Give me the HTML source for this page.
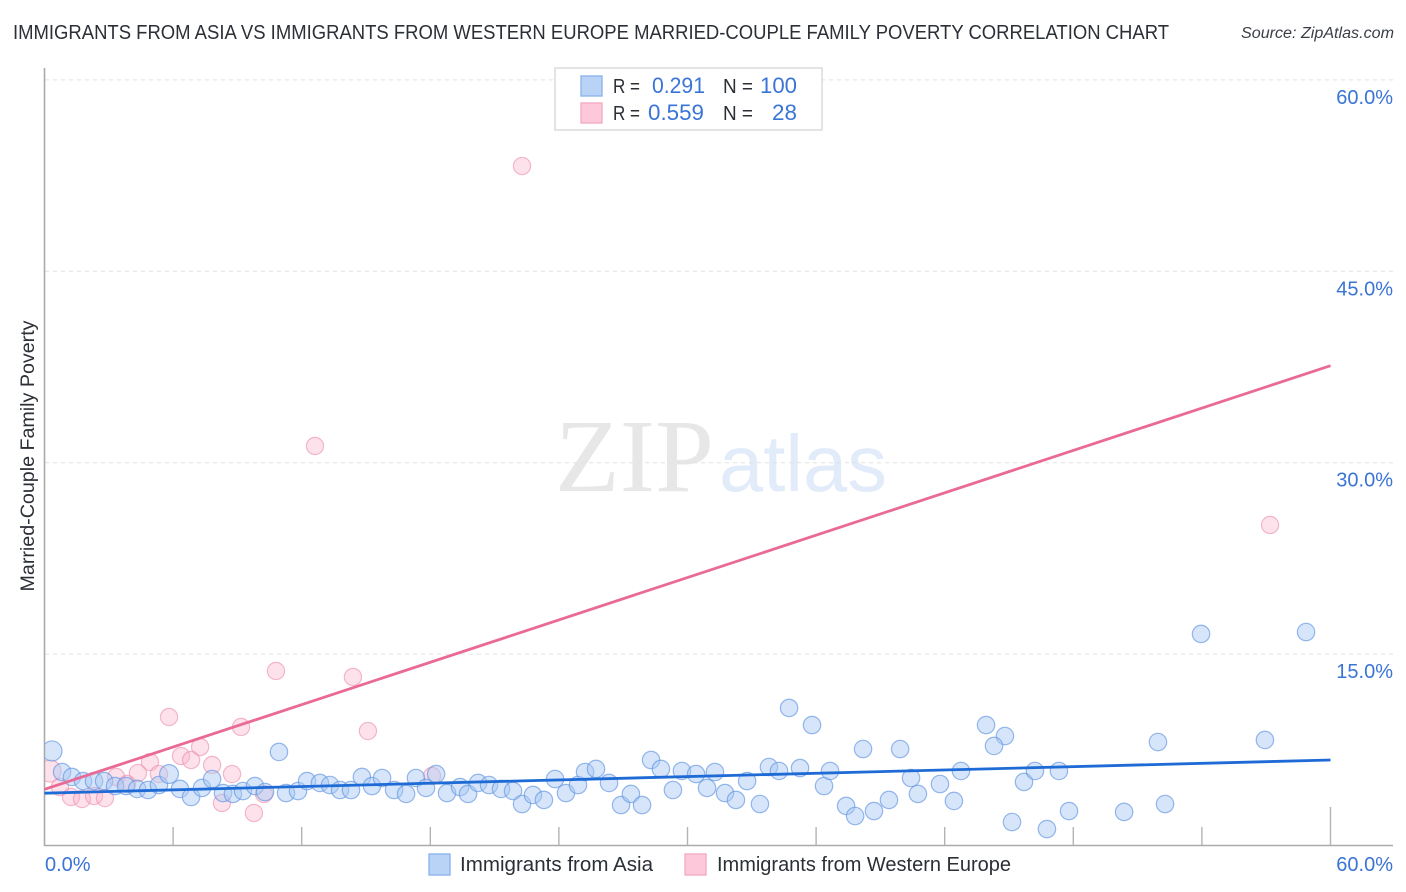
<!DOCTYPE html>
<html lang="en">
<head>
<meta charset="utf-8">
<title>Immigrants from Asia vs Immigrants from Western Europe Married-Couple Family Poverty Correlation Chart</title>
<style>
html,body{margin:0;padding:0;background:#fff;width:1406px;height:892px;overflow:hidden}
svg{display:block;font-family:"Liberation Sans",sans-serif}
</style>
</head>
<body>
<svg id="chart" width="1406" height="892" viewBox="0 0 1406 892" xmlns="http://www.w3.org/2000/svg">
  <defs><clipPath id="plot-clip"><rect x="45" y="60" width="1350" height="785"/></clipPath></defs>
  <text x="13" y="39" font-size="20" fill="#2b2f36" textLength="1156" lengthAdjust="spacingAndGlyphs">IMMIGRANTS FROM ASIA VS IMMIGRANTS FROM WESTERN EUROPE MARRIED-COUPLE FAMILY POVERTY CORRELATION CHART</text>
  <text x="1241" y="38" font-size="15.5" font-style="italic" fill="#3a3f47" textLength="153" lengthAdjust="spacingAndGlyphs">Source: ZipAtlas.com</text>

  <g>
    <text x="555" y="491" font-family="'Liberation Serif',serif" font-size="104" fill="#e7e7e7" textLength="159" lengthAdjust="spacingAndGlyphs">ZIP</text>
    <text x="719" y="491" font-size="80" fill="#e2ebf9" textLength="168" lengthAdjust="spacingAndGlyphs">atlas</text>
  </g>

  <g id="grid"></g>
  <g id="axes">
    <line x1="44.5" y1="68" x2="44.5" y2="846" stroke="#aaaaaa" stroke-width="1.6"/>
    <line x1="44" y1="845.5" x2="1393" y2="845.5" stroke="#aaaaaa" stroke-width="1.6"/>
  </g>
  <g id="x-ticks"></g>
  <g id="y-labels"></g>
  <g id="x-labels"></g>

  <text transform="translate(34,456) rotate(-90)" font-size="19" fill="#2b2f36" text-anchor="middle" textLength="271" lengthAdjust="spacingAndGlyphs">Married-Couple Family Poverty</text>

  <g id="points-pink" clip-path="url(#plot-clip)"></g>
  <g id="points-blue" clip-path="url(#plot-clip)"></g>
  <g id="trends"></g>

  <g>
    <rect x="555" y="68" width="267" height="62" fill="#ffffff" fill-opacity="0.92" stroke="#dddddd" stroke-width="1.6"/>
    <rect x="581" y="76" width="21" height="20" fill="#b9d3f6" stroke="#8fb6ec" stroke-width="1.4"/>
    <rect x="581" y="103" width="21" height="20" fill="#fcc8da" stroke="#f3adc6" stroke-width="1.4"/>
    <g font-size="22">
      <text x="613" y="93" fill="#2b2f36" font-size="20" textLength="27" lengthAdjust="spacingAndGlyphs">R =</text>
      <text x="652" y="93" fill="#3a74d6" textLength="53" lengthAdjust="spacingAndGlyphs">0.291</text>
      <text x="723" y="93" fill="#2b2f36" font-size="20" textLength="30" lengthAdjust="spacingAndGlyphs">N =</text>
      <text x="760" y="93" fill="#3a74d6" textLength="37" lengthAdjust="spacingAndGlyphs">100</text>
      <text x="613" y="120" fill="#2b2f36" font-size="20" textLength="27" lengthAdjust="spacingAndGlyphs">R =</text>
      <text x="648" y="120" fill="#3a74d6" textLength="56" lengthAdjust="spacingAndGlyphs">0.559</text>
      <text x="723" y="120" fill="#2b2f36" font-size="20" textLength="30" lengthAdjust="spacingAndGlyphs">N =</text>
      <text x="772" y="120" fill="#3a74d6" textLength="25" lengthAdjust="spacingAndGlyphs">28</text>
    </g>
  </g>

  <g>
    <rect x="429" y="854" width="21" height="21" fill="#b9d3f6" stroke="#8fb6ec" stroke-width="1.4"/>
    <text x="460" y="871" font-size="20" fill="#2b2f36" textLength="193" lengthAdjust="spacingAndGlyphs">Immigrants from Asia</text>
    <rect x="685" y="854" width="21" height="21" fill="#fcc8da" stroke="#f3adc6" stroke-width="1.4"/>
    <text x="717" y="871" font-size="20" fill="#2b2f36" textLength="294" lengthAdjust="spacingAndGlyphs">Immigrants from Western Europe</text>
  </g>
</svg>
<script>
// Chart data (percent values)
var xMax = [60];
var yGridValues = [15, 30, 45, 60];
var yTickLabels = ["15.0%", "30.0%", "45.0%", "60.0%"];
var xTickValues = [6, 12, 18, 24, 30, 36, 42, 48, 54, 60];
var xTickLabels = ["0.0%", "60.0%"];
var trendX = [0, 60];
var asiaTrend = [4.1, 6.7];
var europeTrend = [4.4, 37.6];
var asiaX = [0.35,0.82,1.28,1.80,2.31,2.78,3.29,3.80,4.32,4.83,5.34,5.81,6.32,6.84,7.35,7.82,8.33,8.79,9.26,9.82,10.29,10.94,11.27,11.83,12.25,12.85,13.32,13.79,14.30,14.81,15.28,15.75,16.31,16.87,17.33,17.80,18.27,18.78,19.39,19.76,20.23,20.74,21.30,21.86,22.28,22.79,23.30,23.82,24.33,24.89,25.22,25.73,26.34,26.90,27.36,27.88,28.30,28.76,29.32,29.74,30.40,31.28,30.91,31.75,32.26,32.78,33.38,33.80,34.27,34.74,35.25,35.81,36.37,36.65,37.40,37.82,38.19,38.70,39.40,39.92,40.43,40.75,41.78,42.43,42.76,43.93,44.81,44.30,45.70,46.21,45.14,46.77,53.96,58.86,51.95,56.94,47.33,47.80,50.37,52.28];
var asiaY = [7.41,5.76,5.37,5.05,5.05,5.05,4.66,4.66,4.43,4.35,4.74,5.60,4.43,3.80,4.51,5.21,4.11,4.04,4.27,4.66,4.19,7.33,4.11,4.27,5.05,4.90,4.74,4.35,4.35,5.37,4.66,5.29,4.35,4.04,5.29,4.51,5.60,4.11,4.58,4.04,4.90,4.74,4.43,4.27,3.25,3.96,3.57,5.21,4.11,4.74,5.76,6.00,4.90,3.17,4.04,3.17,6.70,6.00,4.35,5.84,5.60,5.76,4.51,4.11,3.57,5.05,3.25,6.15,5.84,10.78,6.07,9.44,4.66,5.84,3.10,2.31,7.56,2.70,3.57,7.56,5.29,4.04,4.82,3.49,5.84,9.44,8.58,7.80,4.98,5.84,1.84,1.29,16.58,16.73,8.11,8.27,5.84,2.70,2.63,3.25];
var europeX = [22.28,12.62,57.18,10.80,14.39,5.81,15.09,9.17,7.26,6.37,4.92,6.84,7.82,8.75,4.36,5.34,3.34,3.85,0.26,0.72,1.24,1.75,2.31,2.82,8.28,9.77,10.24,18.08];
var europeY = [53.25,31.31,25.12,13.68,13.21,10.07,8.97,9.29,7.72,7.01,6.54,6.70,6.31,5.60,5.68,5.60,5.37,4.82,5.84,4.58,3.80,3.64,3.88,3.72,3.33,2.55,4.04,5.45];

var NS = "http://www.w3.org/2000/svg";
function sx(v) { return 44.5 + v / xMax[0] * 1286; }
function sy(v) { return 845.5 - v * 12.76; }
function mk(tag, parentId, attrs) {
  var el = document.createElementNS(NS, tag);
  for (var k in attrs) el.setAttribute(k, attrs[k]);
  document.getElementById(parentId).appendChild(el);
  return el;
}

yGridValues.forEach(function (v, i) {
  var line = mk("line", "grid", {x1: 45, x2: 1393, y1: sy(v), y2: sy(v), stroke: "#e2e2e2", "stroke-width": 1, "stroke-dasharray": "4 4"});
  
  
  var label = mk("text", "y-labels", {x: 1393, y: sy(v) + 24, "font-size": 20, fill: "#3a74d6", "text-anchor": "end"});
  
  
  label.textContent = yTickLabels[i];
});

xTickValues.forEach(function (v, i) {
  var isLast = i === xTickValues.length - 1;
  var tick = mk("line", "x-ticks", {x1: sx(v), x2: sx(v), y1: isLast ? 807 : 827, y2: 845, stroke: "#b4b4b4", "stroke-width": 1.4});
  
  
});

var xLabelA = mk("text", "x-labels", {x: 45, y: 871, "font-size": 20, fill: "#3a74d6"});


xLabelA.textContent = xTickLabels[0];
var xLabelB = mk("text", "x-labels", {x: 1393, y: 871, "font-size": 20, fill: "#3a74d6", "text-anchor": "end"});


xLabelB.textContent = xTickLabels[1];

europeX.forEach(function (v, i) {
  var c = mk("circle", "points-pink", {cx: sx(v), cy: sy(europeY[i]), r: i === 18 ? 11 : 8.6, fill: "#f9b4ca", "fill-opacity": 0.38, stroke: "#ec8cac", "stroke-opacity": 0.6, "stroke-width": 1.2});
  
  
});

asiaX.forEach(function (v, i) {
  var c = mk("circle", "points-blue", {cx: sx(v), cy: sy(asiaY[i]), r: i === 0 ? 10 : (i === 11 ? 9.4 : 8.7), fill: "#a9c9f3", "fill-opacity": 0.48, stroke: "#5f94e2", "stroke-opacity": 0.65, "stroke-width": 1.2});
  
  
});

var pinkLine = mk("line", "trends", {x1: sx(trendX[0]), y1: sy(europeTrend[0]), x2: sx(trendX[1]), y2: sy(europeTrend[1]), stroke: "#ea6a96", "stroke-width": 2.8});


var blueLine = mk("line", "trends", {x1: sx(trendX[0]), y1: sy(asiaTrend[0]), x2: sx(trendX[1]), y2: sy(asiaTrend[1]), stroke: "#1f6bd6", "stroke-width": 2.8});


</script>
</body>
</html>
